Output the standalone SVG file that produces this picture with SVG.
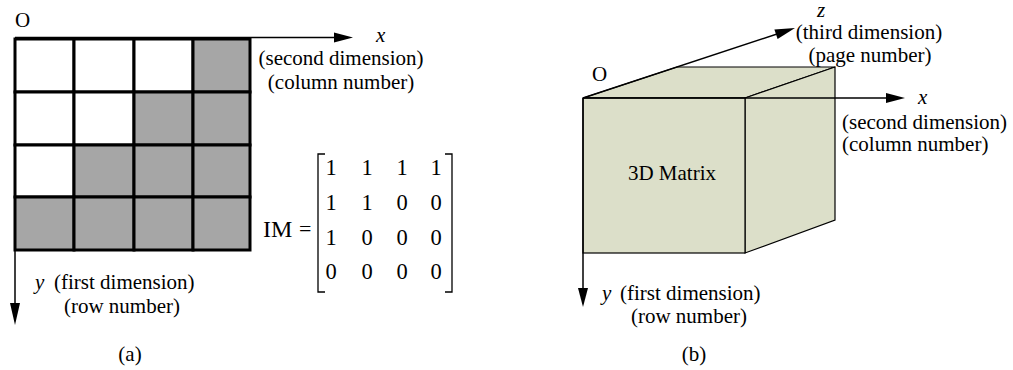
<svg xmlns="http://www.w3.org/2000/svg" width="1013" height="370" viewBox="0 0 1013 370">
  <style>
    .t { font-family: "Liberation Serif", "Times New Roman", serif; font-size: 21px; fill: #000; }
    .it { font-style: italic; }
    .mid { text-anchor: middle; }
    .num { font-family: "Liberation Serif", "Times New Roman", serif; font-size: 22.5px; text-anchor: middle; fill: #000; }
    .axis { stroke: #000; stroke-width: 1.5; fill: none; }
    .head { fill: #000; stroke: none; }
    .cell { stroke: #000; stroke-width: 3; }
    .on { fill: #a6a6a6; }
    .off { fill: #fff; }
    .face { fill: #dcdfc9; stroke: #000; stroke-width: 1.2; stroke-linejoin: miter; }
    .bracket { stroke: #000; stroke-width: 1.3; fill: none; }
  </style>

  <!-- (a) 2D image grid -->
  <g id="grid-a">
    <!-- row 0 -->
    <rect class="cell off" x="15" y="39" width="59" height="53"/>
    <rect class="cell off" x="74" y="39" width="60" height="53"/>
    <rect class="cell off" x="134" y="39" width="59" height="53"/>
    <rect class="cell on" x="193" y="39" width="57" height="53"/>
    <!-- row 1 -->
    <rect class="cell off" x="15" y="92" width="59" height="53"/>
    <rect class="cell off" x="74" y="92" width="60" height="53"/>
    <rect class="cell on" x="134" y="92" width="59" height="53"/>
    <rect class="cell on" x="193" y="92" width="57" height="53"/>
    <!-- row 2 -->
    <rect class="cell off" x="15" y="145" width="59" height="52"/>
    <rect class="cell on" x="74" y="145" width="60" height="52"/>
    <rect class="cell on" x="134" y="145" width="59" height="52"/>
    <rect class="cell on" x="193" y="145" width="57" height="52"/>
    <!-- row 3 -->
    <rect class="cell on" x="15" y="197" width="59" height="53"/>
    <rect class="cell on" x="74" y="197" width="60" height="53"/>
    <rect class="cell on" x="134" y="197" width="59" height="53"/>
    <rect class="cell on" x="193" y="197" width="57" height="53"/>
  </g>

  <!-- (a) matrix of the grid values -->
  <g id="matrix-a">
    <text class="t" x="263" y="237" style="font-size:24px">IM</text>
    <text class="t" x="299" y="236" style="font-size:22px">=</text>
    <path class="bracket" d="M325,154 H318 V292 H325"/>
    <path class="bracket" d="M445,154 H452 V292 H445"/>
    <text class="num" x="331" y="175">1</text>
    <text class="num" x="367" y="175">1</text>
    <text class="num" x="402" y="175">1</text>
    <text class="num" x="436" y="175">1</text>
    <text class="num" x="331" y="210">1</text>
    <text class="num" x="367" y="210">1</text>
    <text class="num" x="402" y="210">0</text>
    <text class="num" x="436" y="210">0</text>
    <text class="num" x="331" y="245">1</text>
    <text class="num" x="367" y="245">0</text>
    <text class="num" x="402" y="245">0</text>
    <text class="num" x="436" y="245">0</text>
    <text class="num" x="331" y="279">0</text>
    <text class="num" x="367" y="279">0</text>
    <text class="num" x="402" y="279">0</text>
    <text class="num" x="436" y="279">0</text>
  </g>

  <!-- (b) 3D matrix cube -->
  <g id="cube-b">
    <polygon class="face" points="583,98 677,67 835,67 745,98"/>
    <polygon class="face" points="745,98 835,67 835,220 745,253"/>
    <rect class="face" x="583" y="98" width="162" height="155"/>
    <text class="t mid" x="672" y="180">3D Matrix</text>
  </g>

  <!-- axes -->
  <g id="connectors">
    <!-- (a) x axis -->
    <line class="axis" x1="15" y1="37.5" x2="336" y2="37.5"/>
    <polygon class="head" points="334,32.5 353,37.5 334,42.5"/>
    <!-- (a) y axis -->
    <line class="axis" x1="15" y1="250" x2="15" y2="305"/>
    <polygon class="head" points="10,303 15,325 20,303"/>
    <!-- (b) x axis -->
    <line class="axis" x1="583" y1="98" x2="888" y2="98"/>
    <polygon class="head" points="886,93 905,98 886,103"/>
    <!-- (b) y axis -->
    <line class="axis" x1="583" y1="98" x2="583" y2="290"/>
    <polygon class="head" points="578,288 583,307 588,288"/>
    <!-- (b) z axis -->
    <line class="axis" x1="583" y1="98" x2="777" y2="34"/>
    <polygon class="head" points="777.6,39 795,28 774.4,29.5"/>
  </g>

  <!-- axis labels -->
  <g id="labels-a">
    <text class="t" x="15" y="27">O</text>
    <text class="t it" x="376" y="42">x</text>
    <text class="t mid" x="341" y="65">(second dimension)</text>
    <text class="t mid" x="341" y="89">(column number)</text>
    <text class="t it" x="35" y="289">y</text>
    <text class="t" x="54" y="289">(first dimension)</text>
    <text class="t mid" x="122" y="313">(row number)</text>
    <text class="t mid" x="130" y="361">(a)</text>
  </g>
  <g id="labels-b">
    <text class="t" x="592" y="81">O</text>
    <text class="t it" x="817" y="17">z</text>
    <text class="t mid" x="869" y="39">(third dimension)</text>
    <text class="t mid" x="870" y="62">(page number)</text>
    <text class="t it" x="918" y="104">x</text>
    <text class="t" x="842" y="129">(second dimension)</text>
    <text class="t" x="842" y="151">(column number)</text>
    <text class="t it" x="602" y="300">y</text>
    <text class="t" x="620" y="300">(first dimension)</text>
    <text class="t mid" x="689" y="323">(row number)</text>
    <text class="t mid" x="694" y="361">(b)</text>
  </g>
</svg>
